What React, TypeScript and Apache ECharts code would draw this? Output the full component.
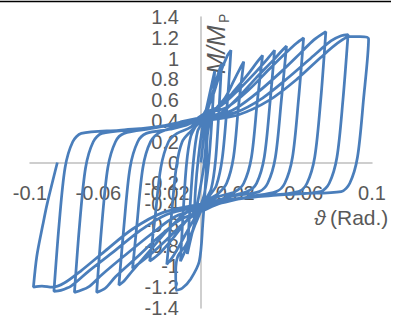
import React, { useEffect, useRef } from "react";
import * as echarts from "echarts";

// x tick labels from -0.1 to 0.1 every 0.04, y ticks -1.4..1.4 every 0.2
const xMin = -0.1;
const xMax = 0.1;
const xStep = 0.04;
const yMin = -1.4;
const yMax = 1.4;
const yStep = 0.2;

// hysteresis cycles [rotation (rad), M/Mp]
const cycle1 = [[0,0],[0.002,0.3],[0.004,0.55],[0.0032,0.25],[0.0015,-0.05],[-0.001,-0.3],[-0.004,-0.55],[-0.0032,-0.25],[-0.0015,0.05]];
const cycle2 = [[0.001,0.35],[0.004,0.58],[0.008,0.88],[0.0065,0.45],[0.0045,0.0],[0.002,-0.3],[-0.001,-0.45],[-0.004,-0.6],[-0.008,-0.88],[-0.0065,-0.45],[-0.0045,0],[-0.002,0.3]];
const cycle2b = [[0.002,0.42],[0.006,0.62],[0.01,0.85],[0.012,0.95],[0.0105,0.5],[0.0085,0.02],[0.006,-0.25],[0.002,-0.38],[-0.003,-0.58],[-0.008,-0.8],[-0.012,-0.95],[-0.0105,-0.5],[-0.0085,-0.02],[-0.006,0.25],[-0.002,0.38]];
const cycle3 = [[0.001,0.45],[0.006,0.6],[0.011,0.85],[0.0155,1.03],[0.0175,1.08],[0.0155,0.6],[0.0125,0.05],[0.009,-0.22],[0.005,-0.32],[0.001,-0.43],[-0.004,-0.62],[-0.009,-0.8],[-0.0135,-0.9],[-0.0148,-1.05],[-0.0146,-1.23],[-0.011,-1.21],[-0.006,-1.12],[-0.001,-0.95],[0.001,-0.6],[0.003,-0.1],[0.004,0.3]];
const cycle4 = [[0.008,0.5],[0.014,0.62],[0.019,0.78],[0.023,0.91],[0.025,0.97],[0.022,0.55],[0.019,0.05],[0.015,-0.2],[0.01,-0.3],[0.004,-0.36],[0,-0.44],[-0.006,-0.6],[-0.012,-0.78],[-0.017,-0.92],[-0.02,-0.98],[-0.0175,-0.55],[-0.0145,-0.05],[-0.011,0.2],[-0.006,0.3],[-0.001,0.38]];
const cycle5 = [[0.004,0.46],[0.012,0.55],[0.02,0.7],[0.028,0.86],[0.033,0.97],[0.036,1.03],[0.033,0.6],[0.0295,0.05],[0.025,-0.2],[0.02,-0.28],[0.01,-0.33],[0,-0.42],[-0.008,-0.55],[-0.016,-0.72],[-0.024,-0.87],[-0.03,-0.95],[-0.027,-0.55],[-0.0235,-0.05],[-0.019,0.2],[-0.014,0.28],[-0.006,0.34]];
const cycle5b = [[0.003,0.48],[0.012,0.55],[0.022,0.7],[0.032,0.87],[0.039,1.0],[0.043,1.08],[0.0405,0.6],[0.037,0.05],[0.0325,-0.2],[0.027,-0.28],[0.014,-0.34],[0,-0.46],[-0.01,-0.58],[-0.02,-0.74],[-0.03,-0.89],[-0.037,-0.98],[-0.04,-1.02],[-0.0375,-0.6],[-0.034,-0.05],[-0.0295,0.2],[-0.024,0.29],[-0.01,0.36]];
const cycle6 = [[0.002,0.41],[0.012,0.48],[0.022,0.63],[0.032,0.81],[0.042,0.98],[0.047,1.07],[0.05,1.12],[0.047,0.6],[0.0435,0.05],[0.039,-0.2],[0.034,-0.28],[0.02,-0.32],[0.008,-0.37],[0,-0.41],[-0.01,-0.5],[-0.02,-0.66],[-0.03,-0.85],[-0.04,-1.04],[-0.045,-1.14],[-0.048,-1.18],[-0.045,-0.6],[-0.0415,-0.05],[-0.037,0.2],[-0.032,0.28],[-0.018,0.32],[-0.007,0.37]];
const cycle7 = [[0.002,0.47],[0.015,0.53],[0.028,0.7],[0.04,0.9],[0.05,1.06],[0.056,1.15],[0.06,1.2],[0.057,0.6],[0.0535,0.05],[0.049,-0.2],[0.044,-0.28],[0.028,-0.33],[0.012,-0.39],[0,-0.47],[-0.012,-0.55],[-0.025,-0.72],[-0.038,-0.92],[-0.05,-1.1],[-0.056,-1.21],[-0.061,-1.25],[-0.058,-0.6],[-0.0545,-0.05],[-0.05,0.2],[-0.045,0.28],[-0.028,0.33],[-0.012,0.39]];
const cycle8 = [[0.002,0.44],[0.018,0.5],[0.032,0.66],[0.046,0.86],[0.058,1.05],[0.066,1.18],[0.073,1.26],[0.07,0.6],[0.0665,0.05],[0.062,-0.2],[0.057,-0.28],[0.038,-0.32],[0.015,-0.37],[0,-0.44],[-0.015,-0.52],[-0.03,-0.7],[-0.045,-0.9],[-0.058,-1.08],[-0.066,-1.2],[-0.074,-1.25],[-0.071,-0.6],[-0.0675,-0.05],[-0.063,0.2],[-0.058,0.28],[-0.038,0.32],[-0.015,0.37]];
const cycle9 = [[0.002,0.42],[0.02,0.48],[0.036,0.62],[0.052,0.83],[0.066,1.03],[0.076,1.17],[0.082,1.22],[0.086,1.23],[0.083,0.6],[0.0795,0.05],[0.075,-0.2],[0.07,-0.28],[0.048,-0.31],[0.02,-0.35],[0,-0.42],[-0.02,-0.5],[-0.036,-0.66],[-0.052,-0.87],[-0.066,-1.05],[-0.076,-1.19],[-0.082,-1.23],[-0.086,-1.24],[-0.083,-0.6],[-0.0795,-0.05],[-0.075,0.2],[-0.07,0.28],[-0.048,0.31],[-0.02,0.35]];
const cycle10 = [[0.002,0.4],[0.022,0.46],[0.04,0.6],[0.056,0.8],[0.07,1.01],[0.08,1.15],[0.087,1.21],[0.093,1.21],[0.098,1.19],[0.095,0.6],[0.0915,0.05],[0.087,-0.2],[0.082,-0.28],[0.058,-0.3],[0.025,-0.34],[0,-0.4],[-0.022,-0.48],[-0.04,-0.64],[-0.056,-0.85],[-0.07,-1.04],[-0.08,-1.16],[-0.087,-1.2],[-0.093,-1.19],[-0.098,-1.2],[-0.096,-0.9],[-0.0925,-0.6],[-0.09,-0.4],[-0.084,0]];

const cycles = [cycle1, cycle2, cycle2b, cycle3, cycle4, cycle5, cycle5b, cycle6, cycle7, cycle8, cycle9, cycle10];

const FONT = "'Liberation Sans', Arial, sans-serif";
const GREY = "#595959";
const GRID_W = 342;
const GRID_H = 291;

export default function App() {
  const ref = useRef<HTMLDivElement>(null);
  useEffect(() => {
    if (!ref.current) return;
    const chart = echarts.init(ref.current, null, { renderer: "svg" });
    const data: number[][] = [];
    cycles.forEach((c) => c.forEach((p) => data.push(p)));
    chart.setOption({
      animation: false,
      grid: { left: 30, top: 17, width: GRID_W, height: GRID_H, containLabel: false, outerBoundsMode: "none" },
      xAxis: {
        type: "value",
        min: xMin,
        max: xMax,
        interval: xStep,
        position: "bottom",
        offset: -GRID_H / 2,
        axisLine: { onZero: false, lineStyle: { color: "#bfbfbf", width: 1.5 } },
        axisTick: { show: false },
        splitLine: { show: false },
        axisLabel: { color: GREY, fontSize: 20, fontFamily: FONT, margin: 20, showMinLabel: true, showMaxLabel: true, hideOverlap: false },
      },
      yAxis: {
        type: "value",
        min: yMin,
        max: yMax,
        interval: yStep,
        position: "left",
        offset: -(0 - xMin) / (xMax - xMin) * GRID_W,
        axisLine: { onZero: false, lineStyle: { color: "#bfbfbf", width: 1.5 } },
        axisTick: { show: false },
        splitLine: { show: false },
        axisLabel: { color: GREY, fontSize: 20, fontFamily: FONT, margin: 22, showMinLabel: true, showMaxLabel: true, hideOverlap: false },
      },
      series: [
        {
          type: "line",
          data,
          showSymbol: false,
          smooth: 0.3,
          clip: false,
          lineStyle: { color: "#4a7ebb", width: 2.75 },
          z: 3,
        },
      ],
      graphic: [
        { type: "line", shape: { x1: 0, y1: 1.5, x2: 391, y2: 1.5 }, style: { stroke: "#000", lineWidth: 1.5 }, silent: true },
        {
          type: "text",
          x: 216,
          y: 74,
          rotation: Math.PI / 2,
          style: { text: "M/M", fontSize: 25, fontStyle: "italic", fontFamily: FONT, fill: GREY, align: "left", verticalAlign: "middle" },
        },
        {
          type: "text",
          x: 224,
          y: 23,
          rotation: Math.PI / 2,
          style: { text: "P", fontSize: 14, fontFamily: FONT, fill: GREY, align: "left", verticalAlign: "middle" },
        },
        {
          type: "text",
          x: 314,
          y: 217,
          style: { text: "ϑ", fontSize: 21, fontStyle: "italic", fontFamily: FONT, fill: GREY, align: "left", verticalAlign: "middle" },
        },
        {
          type: "text",
          x: 330,
          y: 217,
          style: { text: "(Rad.)", fontSize: 21, fontFamily: FONT, fill: GREY, align: "left", verticalAlign: "middle" },
        },
      ],
    });
    return () => chart.dispose();
  }, []);
  return <div ref={ref} style={{ position: "absolute", left: 0, top: 0, width: 395, height: 320 }} />;
}
